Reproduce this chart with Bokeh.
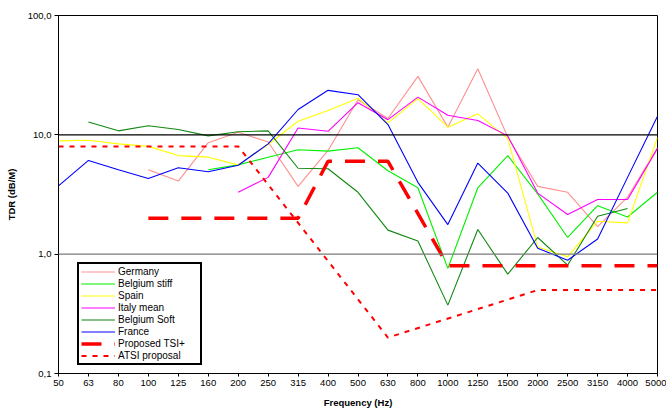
from bokeh.plotting import figure
from bokeh.models import FixedTicker, Span, Legend, LegendItem, CustomJSTickFormatter
from bokeh.embed import file_html
from bokeh.resources import INLINE

freqs = ["50", "63", "80", "100", "125", "160", "200", "250", "315", "400", "500",
         "630", "800", "1000", "1250", "1500", "2000", "2500", "3150", "4000", "5000"]
N = None
germany = [N, N, N, 5.1, 4.1, 8.6, 10.5, 8.7, 3.7, 7.4, 19.7, 13.7, 30.9, 11.6, 35.8, 9.6, 3.7, 3.3, 1.7, 3.0, 7.8]
belgium_stiff = [N, N, N, N, N, 5.1, 5.6, 6.5, 7.5, 7.3, 7.8, 5.0, 3.6, 0.76, 3.6, 6.7, 3.2, 1.38, 2.55, 2.05, 3.3]
spain = [8.9, 9.0, 8.4, 8.0, 6.7, 6.5, 5.6, 8.3, 13.0, 16.0, 20.3, 12.6, 20.1, 11.6, 15.0, 9.3, 1.15, 0.95, 1.89, 1.83, 9.5]
italy_mean = [N, N, N, N, N, N, 3.3, 4.4, 11.4, 10.7, 18.6, 13.4, 20.7, 14.6, 13.2, 9.8, 3.25, 2.15, 2.87, 2.87, 7.7]
belgium_soft = [N, 12.8, 10.8, 11.9, 11.1, 9.8, 10.6, 10.8, 5.25, 5.2, 3.3, 1.59, 1.29, 0.374, 1.61, 0.68, 1.38, 0.81, 2.08, 2.41, N]
france = [3.73, 6.1, 5.1, 4.3, 5.3, 4.9, 5.56, 8.4, 16.3, 23.6, 21.7, 12.2, 4.0, 1.77, 5.8, 3.25, 1.12, 0.89, 1.34, 4.4, 14.3]
tsi_freqs = ["100", "315", "400", "630", "1000", "5000"]
tsi_vals = [2.0, 2.0, 6.0, 6.0, 0.8, 0.8]
atsi_freqs = ["50", "200", "630", "2000", "5000"]
atsi_vals = [8.0, 8.0, 0.2, 0.5, 0.5]

series = [
    ("Germany", germany, "#FF9090"),
    ("Belgium stiff", belgium_stiff, "#00F000"),
    ("Spain", spain, "#FFFF00"),
    ("Italy mean", italy_mean, "#FF00FF"),
    ("Belgium Soft", belgium_soft, "#118811"),
    ("France", france, "#0000FF"),
]

FONT = "Liberation Sans"

p = figure(width=666, height=412, x_range=(0, 20), y_range=(0.1, 100),
           y_axis_type="log", output_backend="svg", toolbar_location=None,
           min_border_left=58, min_border_right=9, min_border_top=15, min_border_bottom=39)
p.background_fill_color = "white"
p.border_fill_color = "white"
p.grid.visible = False
p.outline_line_color = "black"
p.outline_line_width = 1
p.outline_line_alpha = 1

p.xaxis.ticker = FixedTicker(ticks=list(range(len(freqs))))
p.xaxis.major_label_overrides = {i: f for i, f in enumerate(freqs)}
p.yaxis.ticker = FixedTicker(ticks=[0.1, 1, 10, 100])
p.yaxis.formatter = CustomJSTickFormatter(code="return tick.toFixed(1).replace('.', ',');")

for ax in (p.xaxis[0], p.yaxis[0]):
    ax.major_label_text_font = FONT
    ax.major_label_text_font_size = "9.5px"
    ax.major_label_text_color = "black"
    ax.axis_label_text_font = FONT
    ax.axis_label_text_font_size = "9.5px"
    ax.axis_label_text_font_style = "bold"
    ax.axis_label_text_color = "black"
    ax.axis_line_color = "black"
    ax.major_tick_line_color = "black"
    ax.minor_tick_line_color = None
    ax.major_tick_in = 0
    ax.major_label_standoff = 3

p.xaxis.major_tick_out = 3
p.yaxis.major_tick_out = 4
p.xaxis.axis_label = "Frequency (Hz)"
p.yaxis.axis_label = "TDR (dB/M)"
p.xaxis.axis_label_standoff = 8
p.yaxis.axis_label_standoff = 8

p.add_layout(Span(location=10, dimension="width", line_color="black", line_width=1.2))
p.add_layout(Span(location=1, dimension="width", line_color="#7a7a7a", line_width=1.2))

items = []
for name, vals, color in series:
    xs = [i for i, v in enumerate(vals) if v is not None]
    ys = [v for v in vals if v is not None]
    r = p.line(xs, ys, line_color=color, line_width=1.1)
    items.append(LegendItem(label=name, renderers=[r]))

r_tsi = p.line([freqs.index(f) for f in tsi_freqs], tsi_vals, line_color="#FF0000",
               line_width=3.5, line_dash="20 13")
items.append(LegendItem(label="Proposed TSI+", renderers=[r_tsi]))
r_atsi = p.line([freqs.index(f) for f in atsi_freqs], atsi_vals, line_color="#FF0000",
                line_width=2, line_dash="5 6")
items.append(LegendItem(label="ATSI proposal", renderers=[r_atsi]))

legend = Legend(items=items, location=(19, 8), margin=0, padding=2, spacing=1,
                glyph_width=34, glyph_height=11, label_height=11, label_standoff=3,
                label_width=80,
                label_text_font=FONT, label_text_font_size="10px", label_text_color="black",
                border_line_color="black", border_line_width=2.5, border_line_alpha=1,
                background_fill_color="white", background_fill_alpha=1)
p.add_layout(legend)

open("out.html", "w").write(file_html(p, INLINE))
